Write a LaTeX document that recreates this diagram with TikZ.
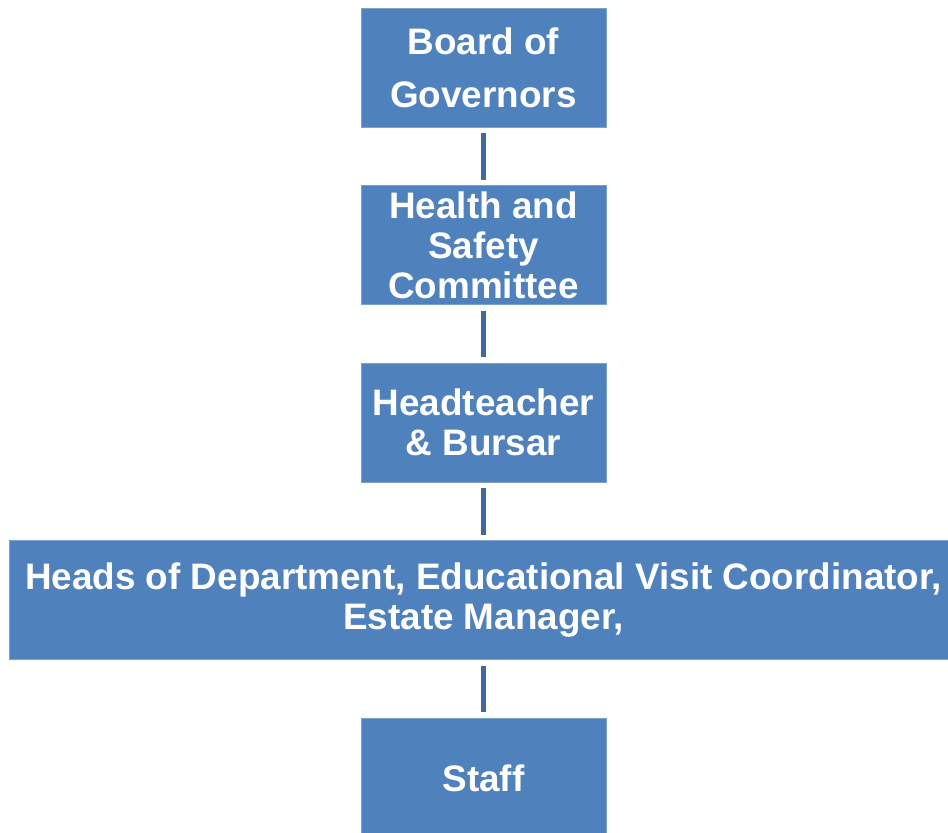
\documentclass[tikz,border=0pt]{standalone}
\usepackage{fontspec}
\setmainfont{Liberation Sans}
\usepackage{tikz}
\usetikzlibrary {positioning}

\definecolor{boxblue}{HTML}{4F81BD}
\definecolor{boxrim}{HTML}{7FA1CF}
\definecolor{linkblue}{HTML}{41699E}

\tikzset{
  orgbox/.style={rectangle, fill=boxblue, draw=boxrim, line width=0.8bp,
    minimum width=245bp, minimum height=119bp, inner sep=2bp, outer sep=0pt,
    text=white, align=center, font=\fontsize{37}{40}\selectfont\bfseries},
  link/.style={linkblue, line width=5bp, shorten <=6bp, shorten >=6bp}
}

\begin{document}
\begin{tikzpicture}[x=1bp, y=1bp]
\useasboundingbox (0,0) rectangle (948,-833);
\clip (0,0) rectangle (948,-833);

\node [orgbox, font=\fontsize{37}{53}\selectfont\bfseries] (board) at (483.5,-67.5) {Board of\\Governors};
\node [orgbox] (hsc) [below=58.6bp of board] {Health and\\Safety\\Committee};
\draw [link] (board) to (hsc);

%management
\node [orgbox] (head) [below=58.6bp of hsc] {Headteacher\\\& Bursar};
\draw [link] (hsc) to (head);

\node [orgbox, minimum width=948bp] (hods) [below=58.6bp of head] {Heads of Department, Educational Visit Coordinator,\\Estate Manager,};
\draw [link] (head) to (hods);

%staff
\node [orgbox] (staff) [below=58.6bp of hods] {Staff};
\draw [link] (hods) to (staff);

\end{tikzpicture}
\end{document}
